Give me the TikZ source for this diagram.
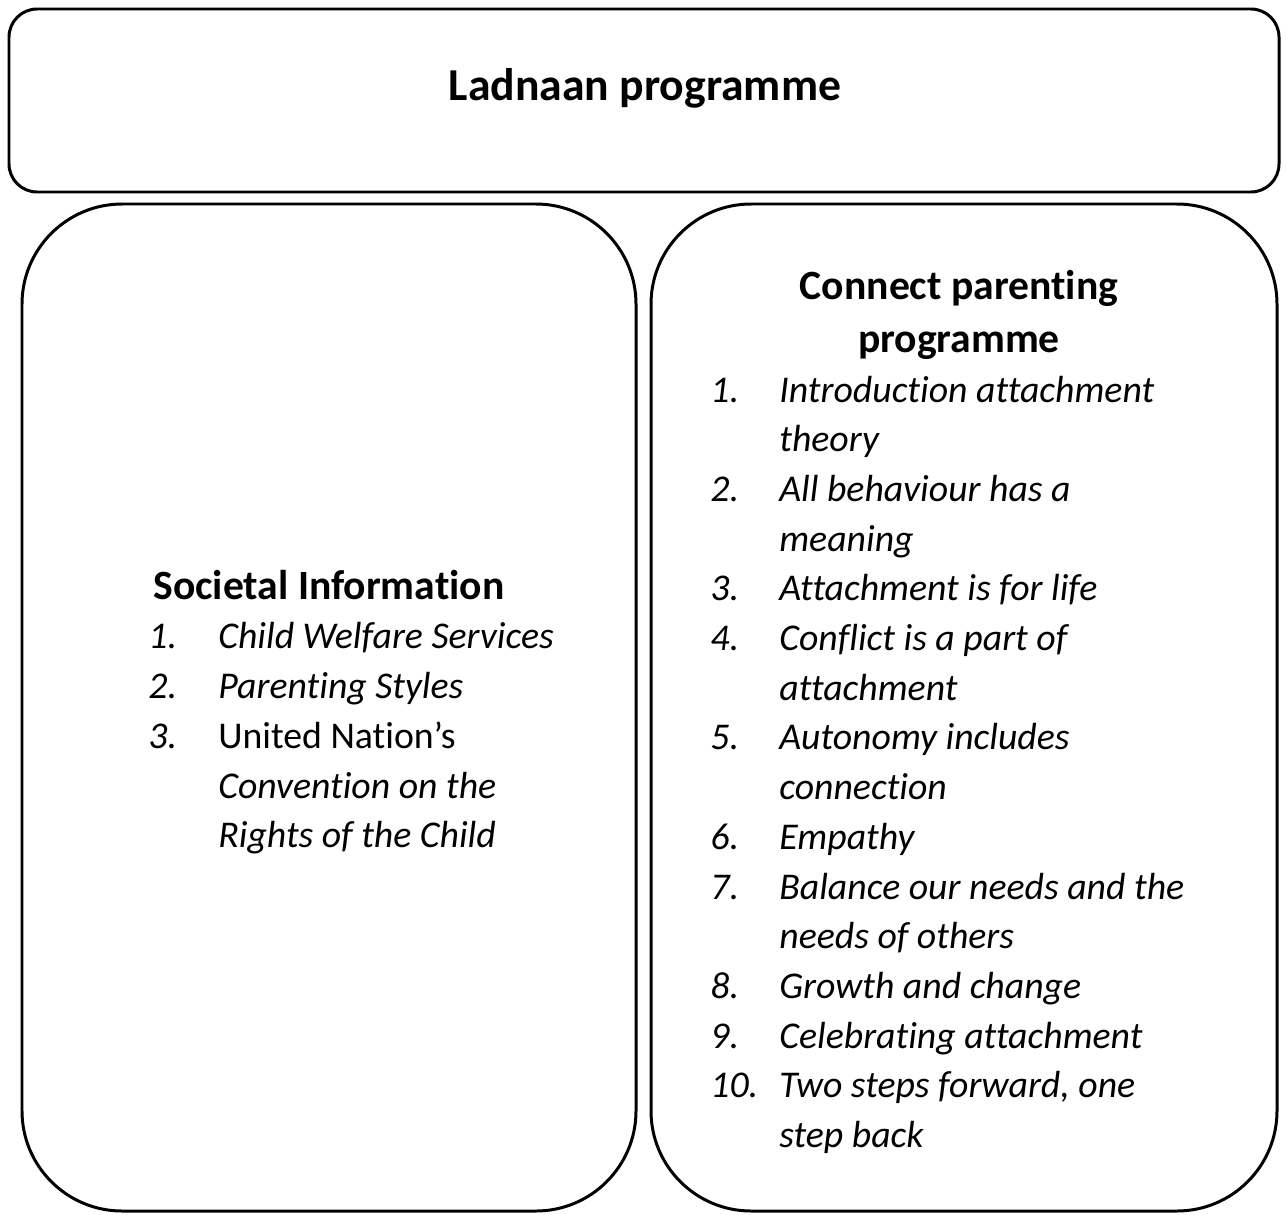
\documentclass[tikz,border=0pt]{standalone}
\usepackage{fontspec}
\setmainfont{Carlito}[Ligatures=CommonOff]

\tikzset{
  frame/.style={draw, line width=1.7pt, rounded corners=#1},
  itemtxt/.style={anchor=base west, inner sep=0pt, font=\fontsize{21.5}{28}\selectfont\itshape},
  headtxt/.style={anchor=base, inner sep=0pt, font=\fontsize{23.7}{28}\selectfont\bfseries},
}

\begin{document}
\begin{tikzpicture}[x=0.02cm,y=-0.02cm]
  \useasboundingbox (0,0) rectangle (1287,1214);

  % the three frames
  \draw[frame=16pt] (9,9) rectangle (1279,192);
  \draw[frame=57pt] (22,204) rectangle (636,1211);
  \draw[frame=57pt] (651,204) rectangle (1277,1211);

  % headings
  \node[headtxt, font=\fontsize{26}{30}\selectfont\bfseries] (title) at (645,100) {Ladnaan programme};
  \node[headtxt, anchor=base west] (societal) at (153,599) {Societal Information};
  \node[headtxt] (connect) at (959,299) {Connect parenting};
  \node[headtxt] (connectb) at (959,352) {programme};

  % left list, 5 lines
  \foreach \y/\n/\t [count=\i] in {648/1./Child Welfare Services,
                                    698/2./Parenting Styles,
                                    748/3./{\upshape United Nation’s},
                                    798//Convention on the,
                                    847//Rights of the Child} {
    \node[itemtxt] (lnum\i) at (148,\y) {\n};
    \node[itemtxt] (ltxt\i) at (218,\y) {\t};
  }

  % right list, 16 lines
  \foreach \n/\t [count=\i] in {1./Introduction attachment,
                                /theory,
                                2./All behaviour has a,
                                /meaning,
                                3./Attachment is for life,
                                4./Conflict is a part of,
                                /attachment,
                                5./Autonomy includes,
                                /connection,
                                6./Empathy,
                                7./Balance our needs and the,
                                /needs of others,
                                8./Growth and change,
                                9./Celebrating attachment,
                                10./{Two steps forward, one},
                                /step back} {
    \pgfmathsetmacro{\y}{402+49.7*(\i-1)}
    \node[itemtxt] (rnum\i) at (710,\y) {\n};
    \node[itemtxt] (rtxt\i) at (779,\y) {\t};
  }

\end{tikzpicture}
\end{document}
